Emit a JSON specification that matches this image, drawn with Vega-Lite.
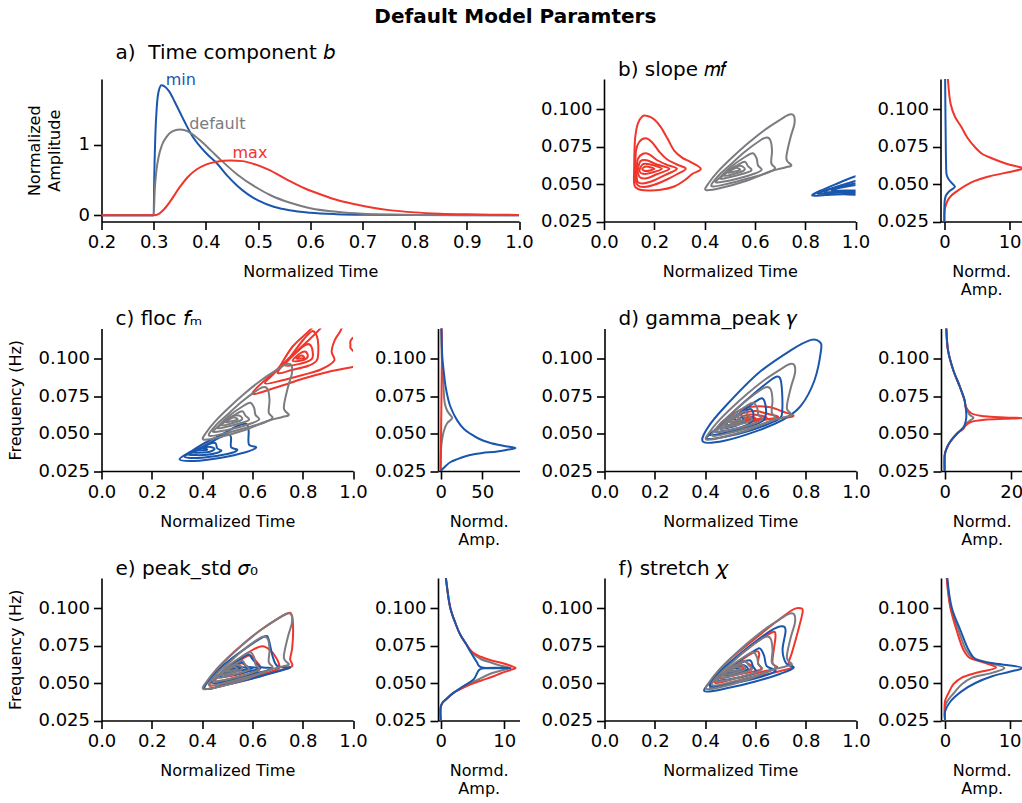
{
"$schema":"https://vega.github.io/schema/vega-lite/v6.json",
"background":"white",
"padding":{"left":7.5,"top":7,"right":0,"bottom":0},
"title":{"text":"Default Model Paramters","anchor":"middle","frame":"bounds","fontSize":20,"fontWeight":"bold","dx":0,"offset":16},
"datasets":{
"A":[
{"s":"min","x":0.2,"y":0},{"s":"min","x":0.3,"y":0},{"s":"min","x":0.301,"y":0.5},{"s":"min","x":0.303,"y":1.1},{"s":"min","x":0.306,"y":1.55},{"s":"min","x":0.31,"y":1.78},{"s":"min","x":0.315,"y":1.85},{"s":"min","x":0.32,"y":1.84},{"s":"min","x":0.33,"y":1.76},{"s":"min","x":0.34,"y":1.62},{"s":"min","x":0.35,"y":1.47},{"s":"min","x":0.36,"y":1.32},{"s":"min","x":0.373,"y":1.14},{"s":"min","x":0.39,"y":0.97},{"s":"min","x":0.405,"y":0.85},{"s":"min","x":0.421,"y":0.74},{"s":"min","x":0.44,"y":0.57},{"s":"min","x":0.46,"y":0.42},{"s":"min","x":0.48,"y":0.3},{"s":"min","x":0.5,"y":0.21},{"s":"min","x":0.53,"y":0.12},{"s":"min","x":0.56,"y":0.07},{"s":"min","x":0.6,"y":0.035},{"s":"min","x":0.65,"y":0.015},{"s":"min","x":0.7,"y":0.006},{"s":"min","x":0.8,"y":0.001},{"s":"min","x":1.0,"y":0},
{"s":"default","x":0.2,"y":0},{"s":"default","x":0.3,"y":0},{"s":"default","x":0.302,"y":0.35},{"s":"default","x":0.305,"y":0.62},{"s":"default","x":0.31,"y":0.85},{"s":"default","x":0.316,"y":1.0},{"s":"default","x":0.325,"y":1.12},{"s":"default","x":0.335,"y":1.19},{"s":"default","x":0.35,"y":1.22},{"s":"default","x":0.36,"y":1.21},{"s":"default","x":0.373,"y":1.16},{"s":"default","x":0.39,"y":1.06},{"s":"default","x":0.41,"y":0.92},{"s":"default","x":0.431,"y":0.77},{"s":"default","x":0.46,"y":0.58},{"s":"default","x":0.5,"y":0.38},{"s":"default","x":0.525,"y":0.28},{"s":"default","x":0.56,"y":0.18},{"s":"default","x":0.6,"y":0.1},{"s":"default","x":0.654,"y":0.045},{"s":"default","x":0.7,"y":0.02},{"s":"default","x":0.75,"y":0.008},{"s":"default","x":0.8,"y":0.003},{"s":"default","x":1.0,"y":0},
{"s":"max","x":0.2,"y":0},{"s":"max","x":0.3,"y":0},{"s":"max","x":0.31,"y":0.02},{"s":"max","x":0.318,"y":0.07},{"s":"max","x":0.33,"y":0.18},{"s":"max","x":0.35,"y":0.4},{"s":"max","x":0.365,"y":0.54},{"s":"max","x":0.382,"y":0.65},{"s":"max","x":0.4,"y":0.72},{"s":"max","x":0.42,"y":0.76},{"s":"max","x":0.447,"y":0.78},{"s":"max","x":0.47,"y":0.77},{"s":"max","x":0.492,"y":0.73},{"s":"max","x":0.52,"y":0.65},{"s":"max","x":0.557,"y":0.5},{"s":"max","x":0.59,"y":0.38},{"s":"max","x":0.622,"y":0.29},{"s":"max","x":0.65,"y":0.22},{"s":"max","x":0.686,"y":0.155},{"s":"max","x":0.72,"y":0.105},{"s":"max","x":0.751,"y":0.072},{"s":"max","x":0.8,"y":0.04},{"s":"max","x":0.848,"y":0.022},{"s":"max","x":0.9,"y":0.012},{"s":"max","x":0.95,"y":0.007},{"s":"max","x":1.0,"y":0.004}
],
"G":[
{"s":"default","r":"g1","x":0.405,"y":0.046},{"s":"default","r":"g1","x":0.464,"y":0.0473},{"s":"default","r":"g1","x":0.57,"y":0.0523},{"s":"default","r":"g1","x":0.663,"y":0.0585},{"s":"default","r":"g1","x":0.72,"y":0.061},{"s":"default","r":"g1","x":0.745,"y":0.0625},{"s":"default","r":"g1","x":0.725,"y":0.067},{"s":"default","r":"g1","x":0.74,"y":0.08},{"s":"default","r":"g1","x":0.757,"y":0.09},{"s":"default","r":"g1","x":0.755,"y":0.0955},{"s":"default","r":"g1","x":0.737,"y":0.0963},{"s":"default","r":"g1","x":0.702,"y":0.093},{"s":"default","r":"g1","x":0.636,"y":0.0857},{"s":"default","r":"g1","x":0.57,"y":0.0768},{"s":"default","r":"g1","x":0.504,"y":0.0668},{"s":"default","r":"g1","x":0.451,"y":0.0579},{"s":"default","r":"g1","x":0.416,"y":0.0505},
{"s":"default","r":"g2","x":0.428,"y":0.0485},{"s":"default","r":"g2","x":0.5,"y":0.0505},{"s":"default","r":"g2","x":0.58,"y":0.054},{"s":"default","r":"g2","x":0.65,"y":0.0575},{"s":"default","r":"g2","x":0.68,"y":0.0605},{"s":"default","r":"g2","x":0.665,"y":0.064},{"s":"default","r":"g2","x":0.668,"y":0.072},{"s":"default","r":"g2","x":0.662,"y":0.079},{"s":"default","r":"g2","x":0.648,"y":0.081},{"s":"default","r":"g2","x":0.625,"y":0.0795},{"s":"default","r":"g2","x":0.56,"y":0.0715},{"s":"default","r":"g2","x":0.5,"y":0.0625},{"s":"default","r":"g2","x":0.455,"y":0.0555},
{"s":"default","r":"g3","x":0.447,"y":0.051},{"s":"default","r":"g3","x":0.53,"y":0.0535},{"s":"default","r":"g3","x":0.6,"y":0.057},{"s":"default","r":"g3","x":0.627,"y":0.0595},{"s":"default","r":"g3","x":0.612,"y":0.0625},{"s":"default","r":"g3","x":0.607,"y":0.067},{"s":"default","r":"g3","x":0.592,"y":0.0705},{"s":"default","r":"g3","x":0.565,"y":0.0685},{"s":"default","r":"g3","x":0.505,"y":0.0615},{"s":"default","r":"g3","x":0.462,"y":0.0545},
{"s":"default","r":"g4","x":0.463,"y":0.0535},{"s":"default","r":"g4","x":0.53,"y":0.0558},{"s":"default","r":"g4","x":0.585,"y":0.0588},{"s":"default","r":"g4","x":0.572,"y":0.062},{"s":"default","r":"g4","x":0.56,"y":0.0648},{"s":"default","r":"g4","x":0.535,"y":0.063},{"s":"default","r":"g4","x":0.495,"y":0.0585},
{"s":"default","r":"g5","x":0.478,"y":0.0555},{"s":"default","r":"g5","x":0.54,"y":0.0578},{"s":"default","r":"g5","x":0.56,"y":0.0598},{"s":"default","r":"g5","x":0.545,"y":0.062},{"s":"default","r":"g5","x":0.512,"y":0.061},
{"s":"default","r":"g6","x":0.495,"y":0.0575},{"s":"default","r":"g6","x":0.54,"y":0.0593},{"s":"default","r":"g6","x":0.523,"y":0.0607}
],
"bC":[
{"s":"max","r":"r1","x":0.12,"y":0.061},{"s":"max","r":"r1","x":0.123,"y":0.079},{"s":"max","r":"r1","x":0.134,"y":0.09},{"s":"max","r":"r1","x":0.153,"y":0.0952},{"s":"max","r":"r1","x":0.173,"y":0.0953},{"s":"max","r":"r1","x":0.2,"y":0.093},{"s":"max","r":"r1","x":0.226,"y":0.0879},{"s":"max","r":"r1","x":0.253,"y":0.0801},{"s":"max","r":"r1","x":0.279,"y":0.0723},{"s":"max","r":"r1","x":0.312,"y":0.0674},{"s":"max","r":"r1","x":0.345,"y":0.0646},{"s":"max","r":"r1","x":0.385,"y":0.0601},{"s":"max","r":"r1","x":0.352,"y":0.0568},{"s":"max","r":"r1","x":0.319,"y":0.0523},{"s":"max","r":"r1","x":0.279,"y":0.0483},{"s":"max","r":"r1","x":0.226,"y":0.0461},{"s":"max","r":"r1","x":0.173,"y":0.0457},{"s":"max","r":"r1","x":0.134,"y":0.0468},{"s":"max","r":"r1","x":0.12,"y":0.0501},
{"s":"max","r":"r2","x":0.125,"y":0.06},{"s":"max","r":"r2","x":0.127,"y":0.072},{"s":"max","r":"r2","x":0.14,"y":0.078},{"s":"max","r":"r2","x":0.165,"y":0.0805},{"s":"max","r":"r2","x":0.19,"y":0.078},{"s":"max","r":"r2","x":0.22,"y":0.0715},{"s":"max","r":"r2","x":0.25,"y":0.0665},{"s":"max","r":"r2","x":0.29,"y":0.063},{"s":"max","r":"r2","x":0.325,"y":0.0602},{"s":"max","r":"r2","x":0.29,"y":0.0565},{"s":"max","r":"r2","x":0.25,"y":0.053},{"s":"max","r":"r2","x":0.2,"y":0.0495},{"s":"max","r":"r2","x":0.16,"y":0.048},{"s":"max","r":"r2","x":0.135,"y":0.049},{"s":"max","r":"r2","x":0.125,"y":0.053},
{"s":"max","r":"r3","x":0.13,"y":0.06},{"s":"max","r":"r3","x":0.135,"y":0.0668},{"s":"max","r":"r3","x":0.155,"y":0.0702},{"s":"max","r":"r3","x":0.18,"y":0.0698},{"s":"max","r":"r3","x":0.21,"y":0.066},{"s":"max","r":"r3","x":0.25,"y":0.0628},{"s":"max","r":"r3","x":0.29,"y":0.0601},{"s":"max","r":"r3","x":0.25,"y":0.0565},{"s":"max","r":"r3","x":0.2,"y":0.0525},{"s":"max","r":"r3","x":0.16,"y":0.0505},{"s":"max","r":"r3","x":0.135,"y":0.0512},{"s":"max","r":"r3","x":0.13,"y":0.055},
{"s":"max","r":"r4","x":0.135,"y":0.06},{"s":"max","r":"r4","x":0.145,"y":0.0652},{"s":"max","r":"r4","x":0.17,"y":0.0658},{"s":"max","r":"r4","x":0.21,"y":0.063},{"s":"max","r":"r4","x":0.26,"y":0.0601},{"s":"max","r":"r4","x":0.21,"y":0.0565},{"s":"max","r":"r4","x":0.17,"y":0.0538},{"s":"max","r":"r4","x":0.145,"y":0.0542},{"s":"max","r":"r4","x":0.135,"y":0.0572},
{"s":"max","r":"r5","x":0.142,"y":0.06},{"s":"max","r":"r5","x":0.155,"y":0.0632},{"s":"max","r":"r5","x":0.18,"y":0.0632},{"s":"max","r":"r5","x":0.23,"y":0.0601},{"s":"max","r":"r5","x":0.18,"y":0.0572},{"s":"max","r":"r5","x":0.155,"y":0.0568},{"s":"max","r":"r5","x":0.142,"y":0.0582},
{"s":"max","r":"r6","x":0.152,"y":0.06},{"s":"max","r":"r6","x":0.168,"y":0.0616},{"s":"max","r":"r6","x":0.2,"y":0.0601},{"s":"max","r":"r6","x":0.168,"y":0.0586},
{"s":"min","r":"b1","x":1.1,"y":0.0438},{"s":"min","r":"b1","x":0.95,"y":0.0432},{"s":"min","r":"b1","x":0.88,"y":0.0426},{"s":"min","r":"b1","x":0.828,"y":0.0423},{"s":"min","r":"b1","x":0.86,"y":0.0455},{"s":"min","r":"b1","x":0.93,"y":0.0505},{"s":"min","r":"b1","x":1.0,"y":0.0552},{"s":"min","r":"b1","x":1.1,"y":0.06},
{"s":"min","r":"b2","x":1.1,"y":0.0448},{"s":"min","r":"b2","x":0.93,"y":0.0441},{"s":"min","r":"b2","x":0.85,"y":0.0436},{"s":"min","r":"b2","x":0.9,"y":0.0468},{"s":"min","r":"b2","x":0.96,"y":0.05},{"s":"min","r":"b2","x":1.1,"y":0.056},
{"s":"min","r":"b3","x":1.1,"y":0.0455},{"s":"min","r":"b3","x":0.95,"y":0.0449},{"s":"min","r":"b3","x":0.875,"y":0.0447},{"s":"min","r":"b3","x":0.93,"y":0.0478},{"s":"min","r":"b3","x":1.1,"y":0.053},
{"s":"min","r":"b4","x":1.1,"y":0.0462},{"s":"min","r":"b4","x":0.96,"y":0.0457},{"s":"min","r":"b4","x":0.905,"y":0.0457},{"s":"min","r":"b4","x":0.96,"y":0.0482},{"s":"min","r":"b4","x":1.1,"y":0.051}
],
"bM":[
{"s":"max","x":0.45,"y":0.125},{"s":"max","x":0.53,"y":0.12},{"s":"max","x":0.95,"y":0.1035},{"s":"max","x":1.6,"y":0.095},{"s":"max","x":2.6,"y":0.088},{"s":"max","x":3.5,"y":0.081},{"s":"max","x":4.7,"y":0.0745},{"s":"max","x":5.8,"y":0.07},{"s":"max","x":6.8,"y":0.068},{"s":"max","x":9.5,"y":0.0635},{"s":"max","x":11.3,"y":0.0615},{"s":"max","x":12.1,"y":0.0605},{"s":"max","x":11.5,"y":0.0595},{"s":"max","x":10,"y":0.058},{"s":"max","x":6.8,"y":0.055},{"s":"max","x":4.2,"y":0.0512},{"s":"max","x":2.1,"y":0.0457},{"s":"max","x":1.0,"y":0.042},{"s":"max","x":0.5,"y":0.039},{"s":"max","x":0.1,"y":0.034},{"s":"max","x":0,"y":0.03},{"s":"max","x":0,"y":0.025},
{"s":"min","x":0.1,"y":0.125},{"s":"min","x":0.15,"y":0.1},{"s":"min","x":0.2,"y":0.08},{"s":"min","x":0.25,"y":0.065},{"s":"min","x":0.35,"y":0.056},{"s":"min","x":0.6,"y":0.0535},{"s":"min","x":1.0,"y":0.0512},{"s":"min","x":1.5,"y":0.049},{"s":"min","x":1.6,"y":0.048},{"s":"min","x":1.0,"y":0.046},{"s":"min","x":0.5,"y":0.044},{"s":"min","x":0.2,"y":0.042},{"s":"min","x":0.05,"y":0.039},{"s":"min","x":0,"y":0.035},{"s":"min","x":0,"y":0.025}
],
"cC":[
{"s":"max","r":"r1","x":0.6,"y":0.0768},{"s":"max","r":"r1","x":0.7,"y":0.081},{"s":"max","r":"r1","x":0.8,"y":0.0865},{"s":"max","r":"r1","x":0.9,"y":0.091},{"s":"max","r":"r1","x":1.0,"y":0.0944},{"s":"max","r":"r1","x":1.1,"y":0.098},{"s":"max","r":"r1","x":1.12,"y":0.13},{"s":"max","r":"r1","x":0.9,"y":0.13},{"s":"max","r":"r1","x":0.875,"y":0.121},{"s":"max","r":"r1","x":0.8,"y":0.1085},{"s":"max","r":"r1","x":0.7,"y":0.093},
{"s":"max","r":"r2","x":0.65,"y":0.0835},{"s":"max","r":"r2","x":0.72,"y":0.0855},{"s":"max","r":"r2","x":0.8,"y":0.089},{"s":"max","r":"r2","x":0.87,"y":0.0925},{"s":"max","r":"r2","x":0.925,"y":0.0985},{"s":"max","r":"r2","x":0.915,"y":0.1045},{"s":"max","r":"r2","x":0.928,"y":0.1124},{"s":"max","r":"r2","x":0.955,"y":0.1202},{"s":"max","r":"r2","x":0.96,"y":0.13},{"s":"max","r":"r2","x":0.86,"y":0.13},{"s":"max","r":"r2","x":0.84,"y":0.121},{"s":"max","r":"r2","x":0.76,"y":0.108},{"s":"max","r":"r2","x":0.7,"y":0.0925},
{"s":"max","r":"r3","x":0.7,"y":0.0905},{"s":"max","r":"r3","x":0.76,"y":0.0925},{"s":"max","r":"r3","x":0.82,"y":0.095},{"s":"max","r":"r3","x":0.855,"y":0.0985},{"s":"max","r":"r3","x":0.862,"y":0.104},{"s":"max","r":"r3","x":0.86,"y":0.1124},{"s":"max","r":"r3","x":0.85,"y":0.117},{"s":"max","r":"r3","x":0.835,"y":0.118},{"s":"max","r":"r3","x":0.8,"y":0.112},{"s":"max","r":"r3","x":0.75,"y":0.101},
{"s":"max","r":"r4","x":0.73,"y":0.0955},{"s":"max","r":"r4","x":0.79,"y":0.0965},{"s":"max","r":"r4","x":0.835,"y":0.0995},{"s":"max","r":"r4","x":0.84,"y":0.104},{"s":"max","r":"r4","x":0.83,"y":0.109},{"s":"max","r":"r4","x":0.81,"y":0.109},{"s":"max","r":"r4","x":0.775,"y":0.104},
{"s":"max","r":"r5","x":0.76,"y":0.0985},{"s":"max","r":"r5","x":0.8,"y":0.0988},{"s":"max","r":"r5","x":0.82,"y":0.1012},{"s":"max","r":"r5","x":0.812,"y":0.1045},{"s":"max","r":"r5","x":0.79,"y":0.1035},
{"s":"max","r":"r6","x":0.775,"y":0.1},{"s":"max","r":"r6","x":0.805,"y":0.1003},{"s":"max","r":"r6","x":0.795,"y":0.102},
{"s":"max","r":"r7","x":0.995,"y":0.106},{"s":"max","r":"r7","x":1.05,"y":0.1},{"s":"max","r":"r7","x":1.1,"y":0.11},{"s":"max","r":"r7","x":1.05,"y":0.118},{"s":"max","r":"r7","x":0.995,"y":0.113},{"s":"max","r":"r7","x":0.99,"y":0.109},
{"s":"min","r":"b1","x":0.31,"y":0.0329},{"s":"min","r":"b1","x":0.369,"y":0.0317},{"s":"min","r":"b1","x":0.476,"y":0.0339},{"s":"min","r":"b1","x":0.569,"y":0.0373},{"s":"min","r":"b1","x":0.615,"y":0.0407},{"s":"min","r":"b1","x":0.586,"y":0.0428},{"s":"min","r":"b1","x":0.585,"y":0.0519},{"s":"min","r":"b1","x":0.576,"y":0.0564},{"s":"min","r":"b1","x":0.54,"y":0.055},{"s":"min","r":"b1","x":0.48,"y":0.0495},{"s":"min","r":"b1","x":0.42,"y":0.0445},{"s":"min","r":"b1","x":0.36,"y":0.0385},
{"s":"min","r":"b2","x":0.33,"y":0.0345},{"s":"min","r":"b2","x":0.4,"y":0.0338},{"s":"min","r":"b2","x":0.5,"y":0.0363},{"s":"min","r":"b2","x":0.54,"y":0.039},{"s":"min","r":"b2","x":0.515,"y":0.041},{"s":"min","r":"b2","x":0.515,"y":0.0475},{"s":"min","r":"b2","x":0.5,"y":0.0495},{"s":"min","r":"b2","x":0.45,"y":0.0455},{"s":"min","r":"b2","x":0.38,"y":0.039},
{"s":"min","r":"b3","x":0.345,"y":0.036},{"s":"min","r":"b3","x":0.42,"y":0.0358},{"s":"min","r":"b3","x":0.475,"y":0.0382},{"s":"min","r":"b3","x":0.46,"y":0.0402},{"s":"min","r":"b3","x":0.452,"y":0.0437},{"s":"min","r":"b3","x":0.42,"y":0.0425},{"s":"min","r":"b3","x":0.375,"y":0.0385},
{"s":"min","r":"b4","x":0.36,"y":0.0375},{"s":"min","r":"b4","x":0.42,"y":0.0375},{"s":"min","r":"b4","x":0.45,"y":0.0397},{"s":"min","r":"b4","x":0.425,"y":0.0412},{"s":"min","r":"b4","x":0.385,"y":0.0397},
{"s":"min","r":"b5","x":0.375,"y":0.0388},{"s":"min","r":"b5","x":0.42,"y":0.0392},{"s":"min","r":"b5","x":0.4,"y":0.0403}
],
"cM":[
{"s":"default","x":0.5,"y":0.125},{"s":"default","x":0.8,"y":0.12},{"s":"default","x":1.5,"y":0.1},{"s":"default","x":2.5,"y":0.09},{"s":"default","x":3.5,"y":0.08},{"s":"default","x":5,"y":0.07},{"s":"default","x":8,"y":0.065},{"s":"default","x":12,"y":0.062},{"s":"default","x":14,"y":0.0605},{"s":"default","x":12,"y":0.059},{"s":"default","x":8,"y":0.057},{"s":"default","x":4,"y":0.052},{"s":"default","x":2,"y":0.047},{"s":"default","x":1,"y":0.043},{"s":"default","x":0.3,"y":0.038},{"s":"default","x":0,"y":0.033},{"s":"default","x":0,"y":0.025},
{"s":"max","x":1.2,"y":0.125},{"s":"max","x":1.4,"y":0.11},{"s":"max","x":1.5,"y":0.1},{"s":"max","x":1.3,"y":0.09},{"s":"max","x":1.1,"y":0.08},{"s":"max","x":0.9,"y":0.07},{"s":"max","x":0.7,"y":0.06},{"s":"max","x":0.5,"y":0.05},{"s":"max","x":0.3,"y":0.04},{"s":"max","x":0.1,"y":0.03},{"s":"max","x":0,"y":0.025},
{"s":"min","x":0.7,"y":0.125},{"s":"min","x":0.8,"y":0.1213},{"s":"min","x":2,"y":0.101},{"s":"min","x":4,"y":0.09},{"s":"min","x":6,"y":0.081},{"s":"min","x":9,"y":0.073},{"s":"min","x":12,"y":0.0675},{"s":"min","x":20,"y":0.0586},{"s":"min","x":28,"y":0.053},{"s":"min","x":36,"y":0.0497},{"s":"min","x":46,"y":0.0465},{"s":"min","x":58,"y":0.044},{"s":"min","x":75,"y":0.0418},{"s":"min","x":90,"y":0.0403},{"s":"min","x":80,"y":0.0392},{"s":"min","x":68,"y":0.038},{"s":"min","x":50,"y":0.037},{"s":"min","x":40,"y":0.0362},{"s":"min","x":28,"y":0.0345},{"s":"min","x":20,"y":0.0329},{"s":"min","x":12,"y":0.031},{"s":"min","x":6,"y":0.0284},{"s":"min","x":2,"y":0.0262},{"s":"min","x":0,"y":0.025}
],
"dC":[
{"s":"max","r":"r1","x":0.46,"y":0.0555},{"s":"max","r":"r1","x":0.55,"y":0.057},{"s":"max","r":"r1","x":0.65,"y":0.0595},{"s":"max","r":"r1","x":0.75,"y":0.0615},{"s":"max","r":"r1","x":0.71,"y":0.0645},{"s":"max","r":"r1","x":0.66,"y":0.0675},{"s":"max","r":"r1","x":0.6,"y":0.068},{"s":"max","r":"r1","x":0.55,"y":0.0665},{"s":"max","r":"r1","x":0.5,"y":0.0615},
{"s":"max","r":"r2","x":0.5,"y":0.0575},{"s":"max","r":"r2","x":0.6,"y":0.0588},{"s":"max","r":"r2","x":0.69,"y":0.0608},{"s":"max","r":"r2","x":0.64,"y":0.0635},{"s":"max","r":"r2","x":0.6,"y":0.065},{"s":"max","r":"r2","x":0.55,"y":0.0635},{"s":"max","r":"r2","x":0.52,"y":0.0605},
{"s":"max","r":"r3","x":0.53,"y":0.0588},{"s":"max","r":"r3","x":0.6,"y":0.0595},{"s":"max","r":"r3","x":0.645,"y":0.0607},{"s":"max","r":"r3","x":0.6,"y":0.0625},{"s":"max","r":"r3","x":0.56,"y":0.062},
{"s":"max","r":"r4","x":0.555,"y":0.0596},{"s":"max","r":"r4","x":0.6,"y":0.0601},{"s":"max","r":"r4","x":0.575,"y":0.0612},
{"s":"min","r":"b1","x":0.392,"y":0.0445},{"s":"min","r":"b1","x":0.477,"y":0.0452},{"s":"min","r":"b1","x":0.61,"y":0.0519},{"s":"min","r":"b1","x":0.716,"y":0.0597},{"s":"min","r":"b1","x":0.782,"y":0.0687},{"s":"min","r":"b1","x":0.835,"y":0.0855},{"s":"min","r":"b1","x":0.861,"y":0.1056},{"s":"min","r":"b1","x":0.855,"y":0.1112},{"s":"min","r":"b1","x":0.821,"y":0.1124},{"s":"min","r":"b1","x":0.742,"y":0.1056},{"s":"min","r":"b1","x":0.61,"y":0.09},{"s":"min","r":"b1","x":0.477,"y":0.0675},{"s":"min","r":"b1","x":0.411,"y":0.054},
{"s":"min","r":"b2","x":0.405,"y":0.0465},{"s":"min","r":"b2","x":0.48,"y":0.0478},{"s":"min","r":"b2","x":0.58,"y":0.052},{"s":"min","r":"b2","x":0.66,"y":0.057},{"s":"min","r":"b2","x":0.7,"y":0.0605},{"s":"min","r":"b2","x":0.707,"y":0.066},{"s":"min","r":"b2","x":0.706,"y":0.078},{"s":"min","r":"b2","x":0.7,"y":0.086},{"s":"min","r":"b2","x":0.688,"y":0.088},{"s":"min","r":"b2","x":0.66,"y":0.0855},{"s":"min","r":"b2","x":0.58,"y":0.0745},{"s":"min","r":"b2","x":0.5,"y":0.0625},{"s":"min","r":"b2","x":0.435,"y":0.0515},
{"s":"min","r":"b3","x":0.42,"y":0.049},{"s":"min","r":"b3","x":0.5,"y":0.0512},{"s":"min","r":"b3","x":0.58,"y":0.055},{"s":"min","r":"b3","x":0.63,"y":0.0585},{"s":"min","r":"b3","x":0.642,"y":0.0635},{"s":"min","r":"b3","x":0.638,"y":0.0705},{"s":"min","r":"b3","x":0.626,"y":0.0735},{"s":"min","r":"b3","x":0.6,"y":0.0712},{"s":"min","r":"b3","x":0.54,"y":0.064},{"s":"min","r":"b3","x":0.465,"y":0.0555},
{"s":"min","r":"b4","x":0.44,"y":0.0512},{"s":"min","r":"b4","x":0.52,"y":0.0532},{"s":"min","r":"b4","x":0.58,"y":0.057},{"s":"min","r":"b4","x":0.592,"y":0.062},{"s":"min","r":"b4","x":0.585,"y":0.066},{"s":"min","r":"b4","x":0.57,"y":0.066},{"s":"min","r":"b4","x":0.52,"y":0.0612},{"s":"min","r":"b4","x":0.47,"y":0.0552},
{"s":"min","r":"b5","x":0.46,"y":0.0532},{"s":"min","r":"b5","x":0.52,"y":0.055},{"s":"min","r":"b5","x":0.55,"y":0.058},{"s":"min","r":"b5","x":0.545,"y":0.0618},{"s":"min","r":"b5","x":0.53,"y":0.062},{"s":"min","r":"b5","x":0.49,"y":0.0578},
{"s":"min","r":"b6","x":0.48,"y":0.0552},{"s":"min","r":"b6","x":0.52,"y":0.057},{"s":"min","r":"b6","x":0.52,"y":0.0592},{"s":"min","r":"b6","x":0.5,"y":0.059}
],
"dM":[
{"s":"default","x":0.4,"y":0.125},{"s":"default","x":0.5,"y":0.12},{"s":"default","x":1.0,"y":0.1056},{"s":"default","x":2.6,"y":0.0922},{"s":"default","x":4.6,"y":0.081},{"s":"default","x":6.0,"y":0.072},{"s":"default","x":6.4,"y":0.067},{"s":"default","x":7.5,"y":0.0625},{"s":"default","x":8.7,"y":0.0605},{"s":"default","x":7.5,"y":0.0585},{"s":"default","x":6.3,"y":0.0565},{"s":"default","x":5.6,"y":0.054},{"s":"default","x":3.6,"y":0.0497},{"s":"default","x":1.5,"y":0.044},{"s":"default","x":0.4,"y":0.039},{"s":"default","x":0.05,"y":0.036},{"s":"default","x":0,"y":0.025},
{"s":"max","x":0.4,"y":0.125},{"s":"max","x":0.5,"y":0.12},{"s":"max","x":1.0,"y":0.1056},{"s":"max","x":2.6,"y":0.0922},{"s":"max","x":4.6,"y":0.081},{"s":"max","x":6.0,"y":0.072},{"s":"max","x":6.3,"y":0.068},{"s":"max","x":8,"y":0.0635},{"s":"max","x":12,"y":0.0615},{"s":"max","x":18,"y":0.0607},{"s":"max","x":23.6,"y":0.0603},{"s":"max","x":18,"y":0.0598},{"s":"max","x":12,"y":0.0592},{"s":"max","x":8,"y":0.0578},{"s":"max","x":6.4,"y":0.0555},{"s":"max","x":5.5,"y":0.053},{"s":"max","x":3.6,"y":0.0497},{"s":"max","x":1.5,"y":0.044},{"s":"max","x":0.4,"y":0.039},{"s":"max","x":0.05,"y":0.036},{"s":"max","x":0,"y":0.025},
{"s":"min","x":0.4,"y":0.125},{"s":"min","x":0.5,"y":0.12},{"s":"min","x":1.0,"y":0.1056},{"s":"min","x":2.6,"y":0.0922},{"s":"min","x":4.6,"y":0.081},{"s":"min","x":6.0,"y":0.072},{"s":"min","x":6.4,"y":0.066},{"s":"min","x":6.5,"y":0.0608},{"s":"min","x":6.2,"y":0.057},{"s":"min","x":5.7,"y":0.0541},{"s":"min","x":3.6,"y":0.0497},{"s":"min","x":1.5,"y":0.044},{"s":"min","x":0.4,"y":0.039},{"s":"min","x":0.05,"y":0.036},{"s":"min","x":0,"y":0.025}
],
"eC":[
{"s":"max","r":"r1","x":0.41,"y":0.0462},{"s":"max","r":"r1","x":0.5,"y":0.049},{"s":"max","r":"r1","x":0.6,"y":0.053},{"s":"max","r":"r1","x":0.7,"y":0.058},{"s":"max","r":"r1","x":0.757,"y":0.0612},{"s":"max","r":"r1","x":0.75,"y":0.066},{"s":"max","r":"r1","x":0.758,"y":0.073},{"s":"max","r":"r1","x":0.762,"y":0.085},{"s":"max","r":"r1","x":0.757,"y":0.095},{"s":"max","r":"r1","x":0.735,"y":0.096},{"s":"max","r":"r1","x":0.64,"y":0.0862},{"s":"max","r":"r1","x":0.57,"y":0.077},{"s":"max","r":"r1","x":0.5,"y":0.0665},{"s":"max","r":"r1","x":0.45,"y":0.0575},
{"s":"max","r":"r2","x":0.43,"y":0.0482},{"s":"max","r":"r2","x":0.52,"y":0.051},{"s":"max","r":"r2","x":0.62,"y":0.055},{"s":"max","r":"r2","x":0.7,"y":0.0592},{"s":"max","r":"r2","x":0.705,"y":0.063},{"s":"max","r":"r2","x":0.69,"y":0.068},{"s":"max","r":"r2","x":0.67,"y":0.072},{"s":"max","r":"r2","x":0.64,"y":0.0745},{"s":"max","r":"r2","x":0.6,"y":0.072},{"s":"max","r":"r2","x":0.53,"y":0.064},{"s":"max","r":"r2","x":0.47,"y":0.0555},
{"s":"max","r":"r3","x":0.45,"y":0.051},{"s":"max","r":"r3","x":0.54,"y":0.054},{"s":"max","r":"r3","x":0.62,"y":0.058},{"s":"max","r":"r3","x":0.63,"y":0.0612},{"s":"max","r":"r3","x":0.61,"y":0.0655},{"s":"max","r":"r3","x":0.59,"y":0.0685},{"s":"max","r":"r3","x":0.56,"y":0.066},{"s":"max","r":"r3","x":0.5,"y":0.0592},
{"s":"max","r":"r4","x":0.47,"y":0.054},{"s":"max","r":"r4","x":0.55,"y":0.056},{"s":"max","r":"r4","x":0.585,"y":0.0592},{"s":"max","r":"r4","x":0.57,"y":0.0622},{"s":"max","r":"r4","x":0.55,"y":0.063},{"s":"max","r":"r4","x":0.51,"y":0.0592},
{"s":"max","r":"r5","x":0.49,"y":0.0562},{"s":"max","r":"r5","x":0.54,"y":0.058},{"s":"max","r":"r5","x":0.55,"y":0.0597},{"s":"max","r":"r5","x":0.53,"y":0.0605},
{"s":"min","r":"b1","x":0.41,"y":0.0462},{"s":"min","r":"b1","x":0.5,"y":0.049},{"s":"min","r":"b1","x":0.6,"y":0.053},{"s":"min","r":"b1","x":0.69,"y":0.0572},{"s":"min","r":"b1","x":0.75,"y":0.0602},{"s":"min","r":"b1","x":0.7,"y":0.0612},{"s":"min","r":"b1","x":0.68,"y":0.068},{"s":"min","r":"b1","x":0.665,"y":0.079},{"s":"min","r":"b1","x":0.65,"y":0.0812},{"s":"min","r":"b1","x":0.6,"y":0.0762},{"s":"min","r":"b1","x":0.5,"y":0.064},{"s":"min","r":"b1","x":0.45,"y":0.0562},
{"s":"min","r":"b2","x":0.44,"y":0.0502},{"s":"min","r":"b2","x":0.52,"y":0.052},{"s":"min","r":"b2","x":0.6,"y":0.0558},{"s":"min","r":"b2","x":0.68,"y":0.0596},{"s":"min","r":"b2","x":0.63,"y":0.0608},{"s":"min","r":"b2","x":0.6,"y":0.066},{"s":"min","r":"b2","x":0.585,"y":0.069},{"s":"min","r":"b2","x":0.56,"y":0.067},{"s":"min","r":"b2","x":0.5,"y":0.0602},
{"s":"min","r":"b3","x":0.46,"y":0.054},{"s":"min","r":"b3","x":0.54,"y":0.056},{"s":"min","r":"b3","x":0.63,"y":0.0598},{"s":"min","r":"b3","x":0.58,"y":0.0608},{"s":"min","r":"b3","x":0.56,"y":0.0638},{"s":"min","r":"b3","x":0.53,"y":0.062},{"s":"min","r":"b3","x":0.49,"y":0.058},
{"s":"min","r":"b4","x":0.48,"y":0.057},{"s":"min","r":"b4","x":0.56,"y":0.0585},{"s":"min","r":"b4","x":0.6,"y":0.06},{"s":"min","r":"b4","x":0.55,"y":0.0605},{"s":"min","r":"b4","x":0.52,"y":0.0605},
{"s":"min","r":"b5","x":0.5,"y":0.0585},{"s":"min","r":"b5","x":0.55,"y":0.0595},{"s":"min","r":"b5","x":0.52,"y":0.06}
],
"eM":[
{"s":"default","x":0.7,"y":0.125},{"s":"default","x":0.83,"y":0.1195},{"s":"default","x":1.5,"y":0.1002},{"s":"default","x":2.3,"y":0.09},{"s":"default","x":3.1,"y":0.082},{"s":"default","x":4.0,"y":0.076},{"s":"default","x":4.7,"y":0.0712},{"s":"default","x":6.3,"y":0.066},{"s":"default","x":8,"y":0.0635},{"s":"default","x":9.5,"y":0.0615},{"s":"default","x":10.8,"y":0.06},{"s":"default","x":9.5,"y":0.0583},{"s":"default","x":8,"y":0.0565},{"s":"default","x":6,"y":0.0525},{"s":"default","x":4,"y":0.0481},{"s":"default","x":2,"y":0.0434},{"s":"default","x":0.8,"y":0.039},{"s":"default","x":0.3,"y":0.037},{"s":"default","x":0,"y":0.034},{"s":"default","x":0,"y":0.025},
{"s":"max","x":0.7,"y":0.125},{"s":"max","x":0.83,"y":0.1195},{"s":"max","x":1.5,"y":0.1002},{"s":"max","x":2.3,"y":0.09},{"s":"max","x":3.1,"y":0.082},{"s":"max","x":4.0,"y":0.076},{"s":"max","x":5.0,"y":0.0705},{"s":"max","x":6.3,"y":0.0675},{"s":"max","x":8,"y":0.065},{"s":"max","x":9.5,"y":0.0635},{"s":"max","x":11,"y":0.0615},{"s":"max","x":11.8,"y":0.06},{"s":"max","x":11,"y":0.0587},{"s":"max","x":9.5,"y":0.0565},{"s":"max","x":8,"y":0.054},{"s":"max","x":6.3,"y":0.0515},{"s":"max","x":4.2,"y":0.0481},{"s":"max","x":2,"y":0.0434},{"s":"max","x":0.8,"y":0.039},{"s":"max","x":0.3,"y":0.037},{"s":"max","x":0,"y":0.034},{"s":"max","x":0,"y":0.025},
{"s":"min","x":0.7,"y":0.125},{"s":"min","x":0.83,"y":0.1195},{"s":"min","x":1.5,"y":0.1002},{"s":"min","x":2.3,"y":0.09},{"s":"min","x":3.1,"y":0.082},{"s":"min","x":4.0,"y":0.076},{"s":"min","x":4.7,"y":0.0706},{"s":"min","x":5.7,"y":0.0638},{"s":"min","x":6,"y":0.0615},{"s":"min","x":6.5,"y":0.0603},{"s":"min","x":11,"y":0.06},{"s":"min","x":6.5,"y":0.0597},{"s":"min","x":6,"y":0.0585},{"s":"min","x":5.2,"y":0.0525},{"s":"min","x":3.6,"y":0.048},{"s":"min","x":2,"y":0.0434},{"s":"min","x":0.8,"y":0.039},{"s":"min","x":0.3,"y":0.037},{"s":"min","x":0,"y":0.034},{"s":"min","x":0,"y":0.025}
],
"fC":[
{"s":"max","r":"r1","x":0.42,"y":0.0472},{"s":"max","r":"r1","x":0.5,"y":0.0502},{"s":"max","r":"r1","x":0.6,"y":0.054},{"s":"max","r":"r1","x":0.7,"y":0.058},{"s":"max","r":"r1","x":0.748,"y":0.0605},{"s":"max","r":"r1","x":0.732,"y":0.0632},{"s":"max","r":"r1","x":0.745,"y":0.07},{"s":"max","r":"r1","x":0.77,"y":0.085},{"s":"max","r":"r1","x":0.788,"y":0.0975},{"s":"max","r":"r1","x":0.78,"y":0.0998},{"s":"max","r":"r1","x":0.75,"y":0.099},{"s":"max","r":"r1","x":0.68,"y":0.0905},{"s":"max","r":"r1","x":0.58,"y":0.077},{"s":"max","r":"r1","x":0.5,"y":0.066},{"s":"max","r":"r1","x":0.45,"y":0.0572},
{"s":"max","r":"r2","x":0.44,"y":0.0502},{"s":"max","r":"r2","x":0.52,"y":0.053},{"s":"max","r":"r2","x":0.62,"y":0.0572},{"s":"max","r":"r2","x":0.685,"y":0.0602},{"s":"max","r":"r2","x":0.668,"y":0.0632},{"s":"max","r":"r2","x":0.673,"y":0.072},{"s":"max","r":"r2","x":0.68,"y":0.0815},{"s":"max","r":"r2","x":0.67,"y":0.084},{"s":"max","r":"r2","x":0.62,"y":0.079},{"s":"max","r":"r2","x":0.55,"y":0.0702},{"s":"max","r":"r2","x":0.48,"y":0.0602},
{"s":"max","r":"r3","x":0.46,"y":0.0532},{"s":"max","r":"r3","x":0.54,"y":0.056},{"s":"max","r":"r3","x":0.62,"y":0.059},{"s":"max","r":"r3","x":0.61,"y":0.0632},{"s":"max","r":"r3","x":0.615,"y":0.0695},{"s":"max","r":"r3","x":0.6,"y":0.071},{"s":"max","r":"r3","x":0.55,"y":0.066},{"s":"max","r":"r3","x":0.5,"y":0.06},
{"s":"max","r":"r4","x":0.48,"y":0.0562},{"s":"max","r":"r4","x":0.55,"y":0.058},{"s":"max","r":"r4","x":0.59,"y":0.0602},{"s":"max","r":"r4","x":0.57,"y":0.063},{"s":"max","r":"r4","x":0.55,"y":0.0648},{"s":"max","r":"r4","x":0.52,"y":0.062},
{"s":"max","r":"r5","x":0.5,"y":0.058},{"s":"max","r":"r5","x":0.55,"y":0.0592},{"s":"max","r":"r5","x":0.54,"y":0.0612},{"s":"max","r":"r5","x":0.515,"y":0.0602},
{"s":"min","r":"b1","x":0.398,"y":0.0445},{"s":"min","r":"b1","x":0.5,"y":0.047},{"s":"min","r":"b1","x":0.6,"y":0.051},{"s":"min","r":"b1","x":0.7,"y":0.0562},{"s":"min","r":"b1","x":0.752,"y":0.0602},{"s":"min","r":"b1","x":0.722,"y":0.0632},{"s":"min","r":"b1","x":0.708,"y":0.072},{"s":"min","r":"b1","x":0.72,"y":0.085},{"s":"min","r":"b1","x":0.705,"y":0.0878},{"s":"min","r":"b1","x":0.66,"y":0.0848},{"s":"min","r":"b1","x":0.58,"y":0.075},{"s":"min","r":"b1","x":0.5,"y":0.064},{"s":"min","r":"b1","x":0.44,"y":0.0542},
{"s":"min","r":"b2","x":0.42,"y":0.048},{"s":"min","r":"b2","x":0.52,"y":0.0502},{"s":"min","r":"b2","x":0.62,"y":0.054},{"s":"min","r":"b2","x":0.68,"y":0.058},{"s":"min","r":"b2","x":0.645,"y":0.0612},{"s":"min","r":"b2","x":0.635,"y":0.068},{"s":"min","r":"b2","x":0.62,"y":0.0728},{"s":"min","r":"b2","x":0.6,"y":0.072},{"s":"min","r":"b2","x":0.53,"y":0.0642},{"s":"min","r":"b2","x":0.47,"y":0.0562},
{"s":"min","r":"b3","x":0.45,"y":0.052},{"s":"min","r":"b3","x":0.54,"y":0.054},{"s":"min","r":"b3","x":0.6,"y":0.057},{"s":"min","r":"b3","x":0.59,"y":0.0612},{"s":"min","r":"b3","x":0.58,"y":0.065},{"s":"min","r":"b3","x":0.55,"y":0.064},{"s":"min","r":"b3","x":0.5,"y":0.059},
{"s":"min","r":"b4","x":0.47,"y":0.055},{"s":"min","r":"b4","x":0.54,"y":0.0572},{"s":"min","r":"b4","x":0.57,"y":0.0592},{"s":"min","r":"b4","x":0.55,"y":0.062},{"s":"min","r":"b4","x":0.51,"y":0.0602},
{"s":"min","r":"b5","x":0.49,"y":0.0572},{"s":"min","r":"b5","x":0.54,"y":0.0585},{"s":"min","r":"b5","x":0.52,"y":0.06}
],
"fM":[
{"s":"default","x":0.25,"y":0.125},{"s":"default","x":0.3,"y":0.12},{"s":"default","x":0.9,"y":0.1},{"s":"default","x":2.1,"y":0.085},{"s":"default","x":3.3,"y":0.0716},{"s":"default","x":4.2,"y":0.0671},{"s":"default","x":6.5,"y":0.0637},{"s":"default","x":9.2,"y":0.06},{"s":"default","x":7.4,"y":0.0569},{"s":"default","x":4.2,"y":0.0536},{"s":"default","x":2.6,"y":0.0492},{"s":"default","x":1.3,"y":0.043},{"s":"default","x":0.3,"y":0.0375},{"s":"default","x":0,"y":0.034},{"s":"default","x":0,"y":0.025},
{"s":"max","x":0.2,"y":0.125},{"s":"max","x":0.26,"y":0.1196},{"s":"max","x":0.8,"y":0.1007},{"s":"max","x":1.8,"y":0.085},{"s":"max","x":2.9,"y":0.0716},{"s":"max","x":3.7,"y":0.0671},{"s":"max","x":6,"y":0.0637},{"s":"max","x":7.9,"y":0.0603},{"s":"max","x":5,"y":0.057},{"s":"max","x":2.6,"y":0.0536},{"s":"max","x":1.3,"y":0.0492},{"s":"max","x":0.5,"y":0.043},{"s":"max","x":0,"y":0.038},{"s":"max","x":0,"y":0.025},
{"s":"min","x":0.3,"y":0.125},{"s":"min","x":0.35,"y":0.12},{"s":"min","x":1.05,"y":0.1},{"s":"min","x":2.4,"y":0.085},{"s":"min","x":3.7,"y":0.0716},{"s":"min","x":4.7,"y":0.066},{"s":"min","x":8.4,"y":0.0626},{"s":"min","x":12,"y":0.06},{"s":"min","x":10,"y":0.0575},{"s":"min","x":7.3,"y":0.0545},{"s":"min","x":4.7,"y":0.05},{"s":"min","x":2.6,"y":0.0446},{"s":"min","x":0.8,"y":0.0375},{"s":"min","x":0,"y":0.031},{"s":"min","x":0,"y":0.025}
]
},
"vconcat":[
{"hconcat":[
{"width":417.5,"height":142.5,"title":{"text":"a)\u00a0 Time component 𝘣","offset":8.5},
"encoding":{
"x":{"field":"x","type":"quantitative","scale":{"domain":[0.2,1],"nice":false,"zero":false},"axis":{"values":[0.2,0.3,0.4,0.5,0.6,0.7,0.8,0.9,1.0],"format":".1f","title":"Normalized Time"}},
"y":{"field":"y","type":"quantitative","scale":{"domain":[-0.09,1.94],"nice":false,"zero":false},"axis":{"values":[0,1],"title":["Normalized","Amplitude"],"titlePadding":16,"titleLineHeight":20}},
"color":{"field":"s","type":"nominal","scale":{"domain":["min","max","default"],"range":["#1b56ad","#f0352b","#7c7c80"]},"legend":null}},
"layer":[
{"data":{"name":"A"},"mark":{"type":"line","interpolate":"monotone","clip":true}},
{"data":{"values":[{"s":"min","t":"min","x":0.323,"y":1.93},{"s":"default","t":"default","x":0.368,"y":1.3},{"s":"max","t":"max","x":0.451,"y":0.88}]},"mark":{"type":"text","align":"left","baseline":"middle","fontSize":16},"encoding":{"text":{"field":"t"}}}
]},
{"width":251.5,"height":142.5,"title":{"text":"b) slope 𝑚𝑓"},
"encoding":{
"x":{"field":"x","type":"quantitative","scale":{"domain":[0,1],"nice":false,"zero":false},"axis":{"values":[0,0.2,0.4,0.6,0.8,1],"format":".1f","title":"Normalized Time"}},
"y":{"field":"y","type":"quantitative","scale":{"domain":[0.025,0.12],"nice":false,"zero":false},"axis":{"values":[0.025,0.05,0.075,0.1],"format":".3f","title":null}},
"color":{"field":"s","type":"nominal","legend":null},"detail":{"field":"r"},"order":{"value":null}},
"layer":[
{"data":{"name":"bC"},"mark":{"type":"line","interpolate":"cardinal-closed","clip":true}},
{"data":{"name":"G"},"mark":{"type":"line","interpolate":"cardinal-closed","clip":true}}
]},
{"width":81.5,"height":142.5,"data":{"name":"bM"},"mark":{"type":"line","interpolate":"catmull-rom","clip":true},
"encoding":{
"x":{"field":"x","type":"quantitative","scale":{"domain":[-0.6,11.9],"nice":false,"zero":false},"axis":{"values":[0,10],"title":["Normd.","Amp."]}},
"y":{"field":"y","type":"quantitative","scale":{"domain":[0.025,0.12],"nice":false,"zero":false},"axis":{"values":[0.025,0.05,0.075,0.1],"format":".3f","title":null}},
"color":{"field":"s","type":"nominal","legend":null},"order":{"value":null}}}
],"spacing":84.5,"bounds":"flush"},
{"hconcat":[
{"width":251.5,"height":142.5,"title":{"text":"c) floc 𝘧ₘ"},
"encoding":{
"x":{"field":"x","type":"quantitative","scale":{"domain":[0,1],"nice":false,"zero":false},"axis":{"values":[0,0.2,0.4,0.6,0.8,1],"format":".1f","title":"Normalized Time"}},
"y":{"field":"y","type":"quantitative","scale":{"domain":[0.025,0.12],"nice":false,"zero":false},"axis":{"values":[0.025,0.05,0.075,0.1],"format":".3f","title":"Frequency (Hz)"}},
"color":{"field":"s","type":"nominal","legend":null},"detail":{"field":"r"},"order":{"value":null}},
"layer":[
{"data":{"name":"cC"},"mark":{"type":"line","interpolate":"cardinal-closed","clip":true}},
{"data":{"name":"G"},"mark":{"type":"line","interpolate":"cardinal-closed","clip":true}}
]},
{"width":81.5,"height":142.5,"data":{"name":"cM"},"mark":{"type":"line","interpolate":"catmull-rom","clip":true},
"encoding":{
"x":{"field":"x","type":"quantitative","scale":{"domain":[-3.2,94.7],"nice":false,"zero":false},"axis":{"values":[0,50],"title":["Normd.","Amp."]}},
"y":{"field":"y","type":"quantitative","scale":{"domain":[0.025,0.12],"nice":false,"zero":false},"axis":{"values":[0.025,0.05,0.075,0.1],"format":".3f","title":null}},
"color":{"field":"s","type":"nominal","legend":null},"order":{"value":null}}},
{"width":251.5,"height":142.5,"title":{"text":"d) gamma_peak 𝛾"},
"encoding":{
"x":{"field":"x","type":"quantitative","scale":{"domain":[0,1],"nice":false,"zero":false},"axis":{"values":[0,0.2,0.4,0.6,0.8,1],"format":".1f","title":"Normalized Time"}},
"y":{"field":"y","type":"quantitative","scale":{"domain":[0.025,0.12],"nice":false,"zero":false},"axis":{"values":[0.025,0.05,0.075,0.1],"format":".3f","title":null}},
"color":{"field":"s","type":"nominal","legend":null},"detail":{"field":"r"},"order":{"value":null}},
"layer":[
{"data":{"name":"dC"},"mark":{"type":"line","interpolate":"cardinal-closed","clip":true}},
{"data":{"name":"G"},"mark":{"type":"line","interpolate":"cardinal-closed","clip":true}}
]},
{"width":81.5,"height":142.5,"data":{"name":"dM"},"mark":{"type":"line","interpolate":"catmull-rom","clip":true},
"encoding":{
"x":{"field":"x","type":"quantitative","scale":{"domain":[-1.1,23.4],"nice":false,"zero":false},"axis":{"values":[0,20],"title":["Normd.","Amp."]}},
"y":{"field":"y","type":"quantitative","scale":{"domain":[0.025,0.12],"nice":false,"zero":false},"axis":{"values":[0.025,0.05,0.075,0.1],"format":".3f","title":null}},
"color":{"field":"s","type":"nominal","legend":null},"order":{"value":null}}}
],"spacing":84.5,"bounds":"flush"},
{"hconcat":[
{"width":251.5,"height":142.5,"title":{"text":"e) peak_std 𝜎₀"},
"encoding":{
"x":{"field":"x","type":"quantitative","scale":{"domain":[0,1],"nice":false,"zero":false},"axis":{"values":[0,0.2,0.4,0.6,0.8,1],"format":".1f","title":"Normalized Time"}},
"y":{"field":"y","type":"quantitative","scale":{"domain":[0.025,0.12],"nice":false,"zero":false},"axis":{"values":[0.025,0.05,0.075,0.1],"format":".3f","title":"Frequency (Hz)"}},
"color":{"field":"s","type":"nominal","legend":null},"detail":{"field":"r"},"order":{"value":null}},
"layer":[
{"data":{"name":"eC"},"mark":{"type":"line","interpolate":"cardinal-closed","clip":true}},
{"data":{"name":"G"},"mark":{"type":"line","interpolate":"cardinal-closed","clip":true}}
]},
{"width":81.5,"height":142.5,"data":{"name":"eM"},"mark":{"type":"line","interpolate":"catmull-rom","clip":true},
"encoding":{
"x":{"field":"x","type":"quantitative","scale":{"domain":[-0.43,12.4],"nice":false,"zero":false},"axis":{"values":[0,10],"title":["Normd.","Amp."]}},
"y":{"field":"y","type":"quantitative","scale":{"domain":[0.025,0.12],"nice":false,"zero":false},"axis":{"values":[0.025,0.05,0.075,0.1],"format":".3f","title":null}},
"color":{"field":"s","type":"nominal","legend":null},"order":{"value":null}}},
{"width":251.5,"height":142.5,"title":{"text":"f) stretch 𝜒"},
"encoding":{
"x":{"field":"x","type":"quantitative","scale":{"domain":[0,1],"nice":false,"zero":false},"axis":{"values":[0,0.2,0.4,0.6,0.8,1],"format":".1f","title":"Normalized Time"}},
"y":{"field":"y","type":"quantitative","scale":{"domain":[0.025,0.12],"nice":false,"zero":false},"axis":{"values":[0.025,0.05,0.075,0.1],"format":".3f","title":null}},
"color":{"field":"s","type":"nominal","legend":null},"detail":{"field":"r"},"order":{"value":null}},
"layer":[
{"data":{"name":"fC"},"mark":{"type":"line","interpolate":"cardinal-closed","clip":true}},
{"data":{"name":"G"},"mark":{"type":"line","interpolate":"cardinal-closed","clip":true}}
]},
{"width":81.5,"height":142.5,"data":{"name":"fM"},"mark":{"type":"line","interpolate":"catmull-rom","clip":true},
"encoding":{
"x":{"field":"x","type":"quantitative","scale":{"domain":[-0.63,12.0],"nice":false,"zero":false},"axis":{"values":[0,10],"title":["Normd.","Amp."]}},
"y":{"field":"y","type":"quantitative","scale":{"domain":[0.025,0.12],"nice":false,"zero":false},"axis":{"values":[0.025,0.05,0.075,0.1],"format":".3f","title":null}},
"color":{"field":"s","type":"nominal","legend":null},"order":{"value":null}}}
],"spacing":84.5,"bounds":"flush"}
],
"spacing":249.5,
"bounds":"flush",
"config":{
"font":"DejaVu Sans",
"view":{"stroke":null},
"axis":{"domainColor":"#000","domainWidth":1.6,"tickColor":"#000","tickWidth":1.6,"tickSize":8,"labelFontSize":18,"labelColor":"#000","labelPadding":4,"labelFlush":false,"labelOverlap":false,"labelBound":false,"titleFontSize":16,"titleFontWeight":"normal","titleColor":"#000","titlePadding":8,"grid":false},
"axisX":{"titlePadding":12},
"axisY":{"titlePadding":14},
"title":{"fontSize":20,"fontWeight":"normal","anchor":"start","frame":"group","color":"#000","dx":14,"offset":-0.5},
"line":{"strokeWidth":2}
}
}
